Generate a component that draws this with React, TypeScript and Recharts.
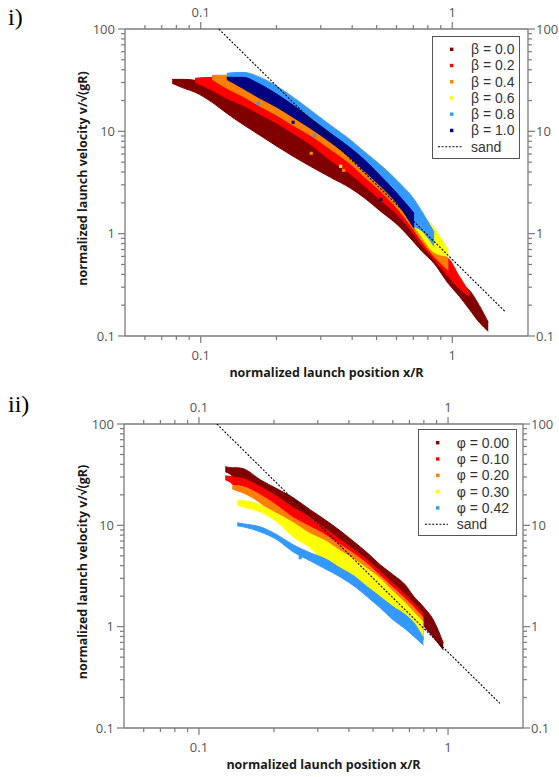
import React from 'react';
import { ComposedChart, Area, Scatter, XAxis, YAxis } from 'recharts';

// ---------- panel i : launch velocity for several beta ----------
const betaPositions = [0.077, 0.086, 0.095, 0.111, 0.127, 0.147, 0.172, 0.201, 0.233, 0.273, 0.328, 0.395, 0.445, 0.52, 0.608, 0.705, 0.752, 0.847, 0.964, 1.067, 1.17, 1.28, 1.39];

// each entry: [lowest velocity, highest velocity] of the point cloud at that position
const beta00 = [[29.5, 32.2], [26.3, 32.2], [24.1, 31.5], [19.2, 27.5], [15.0, 23.0], [11.7, 19.6], [9.14, 16.1], [7.13, 13.1], [5.7, 10.46], [4.55, 8.17], [3.55, 5.7], [2.77, 4.15], [2.26, 3.24], [1.65, 2.31], [1.21, 1.65], [0.822, 1.08], [0.686, 0.86], [0.512, 0.613], [0.326, 0.418], [0.244, 0.319], [0.182, 0.279], [0.136, 0.199], [0.111, 0.136]];
const beta02 = [null, null, [30.1, 33.0], [25.2, 33.7], [21.0, 31.5], [18.0, 24.1], [14.7, 19.2], [11.97, 15.7], [9.56, 12.5], [7.46, 10.0], [5.21, 7.29], [3.8, 5.21], [2.97, 3.97], [2.12, 2.83], [1.51, 1.89], [0.984, 1.18], [0.786, 0.941], [0.561, 0.656], [0.382, 0.573], [0.292, 0.382], [0.244, 0.267], null, null];
const beta04 = [null, null, null, [32.2, 35.3], [26.3, 35.3], [22.0, 28.8], [17.6, 23.0], [14.3, 18.8], [11.45, 15.0], [9.14, 11.7], [6.67, 8.54], [4.76, 5.96], [3.63, 4.55], [2.59, 3.17], [1.73, 2.12], [1.08, 1.23], [0.86, 1.03], [0.6, 0.786], [0.438, 0.573], null, null, null, null];
const beta06 = [null, null, null, null, null, null, null, null, null, null, null, null, null, null, null, [1.18, 1.89], [0.941, 1.58], [0.656, 1.13], [0.6, 0.686], null, null, null, null];
const beta08 = [null, null, null, null, [33.0, 36.9], [27.5, 37.7], [22.0, 33.7], [18.0, 27.5], [14.3, 21.5], [11.2, 16.1], [8.17, 11.45], [5.7, 8.17], [4.35, 6.38], [3.03, 4.65], [2.02, 3.24], [1.18, 2.16], [1.08, 1.69], [0.752, 1.03], null, null, null, null, null];
const beta10 = [null, null, null, null, [32.2, 33.7], [26.3, 33.7], [21.0, 28.8], [17.2, 23.0], [13.7, 18.0], [10.7, 13.4], [7.81, 9.56], [5.45, 6.82], [4.15, 5.33], [2.9, 3.63], [1.93, 2.42], [1.13, 1.58], null, null, null, null, null, null, null];

// isolated points lying off their cloud
const beta04Stray = [{ x: 0.275, y: 6.1 }, { x: 0.37, y: 4.15 }];
const beta06Stray = [{ x: 0.36, y: 4.55 }];
const beta08Stray = [{ x: 0.283, y: 9.14 }, { x: 0.169, y: 18.8 }];
const beta10Stray = [{ x: 0.52, y: 2.16 }, { x: 0.233, y: 12.25 }, { x: 0.143, y: 28.8 }];

const betaLabels = ['β = 0.0', 'β = 0.2', 'β = 0.4', 'β = 0.6', 'β = 0.8', 'β = 1.0'];

// ---------- panel ii : launch velocity for several phi ----------
const phiPositions = [0.1275, 0.136, 0.1425, 0.1506, 0.176, 0.206, 0.239, 0.28, 0.3215, 0.369, 0.424, 0.474, 0.535, 0.603, 0.674, 0.7255, 0.796, 0.873, 0.957];

const phi000 = [[33.8, 37.9], [30.8, 37.0], [26.9, 37.0], [26.3, 36.2], [21.9, 28.2], [17.5, 22.9], [13.6, 18.7], [10.8, 14.2], [8.43, 11.3], [6.57, 8.83], [5.11, 6.72], [4.16, 5.35], [3.17, 4.07], [2.41, 3.24], [1.88, 2.58], [1.57, 2.01], [1.04, 1.57], [0.791, 1.165], [0.589, 0.69]];
const phi010 = [[28.2, 30.8], [25.7, 30.1], [22.4, 29.5], [21.9, 28.8], [18.3, 24.0], [14.2, 19.1], [10.8, 14.9], [8.83, 11.9], [7.36, 9.23], [5.86, 7.19], [4.67, 5.6], [3.8, 4.56], [2.89, 3.47], [2.2, 2.64], [1.71, 2.06], [1.43, 1.71], [0.739, 1.34], null, null];
const phi020 = [null, [22.9, 24.6], [21.9, 24.6], [20.9, 24.0], [16.7, 20.0], [11.9, 15.6], [9.66, 11.9], [7.52, 9.66], [6.42, 8.05], [5.11, 6.42], [4.16, 5.11], [3.39, 4.16], [2.7, 3.17], [2.01, 2.41], [1.57, 1.88], [1.275, 1.57], [0.739, 1.22], null, null];
const phi030 = [null, null, [15.9, 17.5], [15.2, 17.5], [13.6, 15.9], [10.8, 13.0], [7.7, 10.6], [5.99, 8.24], [4.26, 7.03], [3.47, 5.6], [2.83, 4.56], [2.25, 3.72], [1.79, 2.96], [1.43, 2.2], [1.19, 1.71], [1.016, 1.4], [0.706, 1.11], null, null];
const phi042 = [null, null, [9.89, 10.6], [9.66, 10.35], [8.63, 9.66], [7.19, 8.05], [5.47, 6.42], [4.46, 5.35], [3.72, 4.67], [3.1, 3.8], [2.47, 3.1], [1.97, 2.47], [1.53, 1.97], [1.165, 1.57], [0.949, 1.31], [0.809, 1.11], [0.659, 0.773], null, null];

const phi042Stray = [{ x: 0.255, y: 4.8 }];

const phiLabels = ['φ = 0.00', 'φ = 0.10', 'φ = 0.20', 'φ = 0.30', 'φ = 0.42'];

// power law for sand, same in both panels
const sandLine = [{ x: 0.118, y: 100 }, { x: 1.615, y: 0.175 }];

const xTicks = [0.06, 0.07, 0.08, 0.09, 0.1, 0.2, 0.3, 0.4, 0.5, 0.6, 0.7, 0.8, 0.9, 1];
const yTicks = [0.1, 0.2, 0.3, 0.4, 0.5, 0.6, 0.7, 0.8, 0.9, 1, 2, 3, 4, 5, 6, 7, 8, 9, 10, 20, 30, 40, 50, 60, 70, 80, 90, 100];
const majorTicks = [0.1, 1, 10, 100];

const DARK_RED = '#800000';
const RED = '#ff0000';
const ORANGE = '#ff8000';
const YELLOW = '#ffff00';
const LIGHT_BLUE = '#3399ff';
const NAVY = '#000080';

const AXIS = '#7a7a7a';
const TICK_TEXT = '#555';
const FONT = '"Open Sans", "DejaVu Sans", sans-serif';
const LEGEND_FONT = '"Liberation Sans", Arial, sans-serif';

const betaSeries = [
  { key: 'b00', color: DARK_RED, band: beta00, stray: null },
  { key: 'b02', color: RED, band: beta02, stray: null },
  { key: 'b04', color: ORANGE, band: beta04, stray: beta04Stray },
  { key: 'b06', color: YELLOW, band: beta06, stray: beta06Stray },
  { key: 'b08', color: LIGHT_BLUE, band: beta08, stray: beta08Stray },
  { key: 'b10', color: NAVY, band: beta10, stray: beta10Stray },
];

const phiSeries = [
  { key: 'p000', color: DARK_RED, band: phi000, stray: null },
  { key: 'p010', color: RED, band: phi010, stray: null },
  { key: 'p020', color: ORANGE, band: phi020, stray: null },
  { key: 'p030', color: YELLOW, band: phi030, stray: null },
  { key: 'p042', color: LIGHT_BLUE, band: phi042, stray: phi042Stray },
];

const isMajor = (v: number) => majorTicks.includes(v);

const tickLabel = (x: number, y: number, v: number, anchor: string) => (
  <text x={x} y={y} dy="0.35em" textAnchor={anchor} fill={TICK_TEXT} fontSize={13} fontFamily={FONT}>
    {String(v)}
  </text>
);

const bottomTick = (p: any) => {
  const v = p.payload.value;
  const m = isMajor(v);
  return (
    <g>
      <line x1={p.x} y1={p.y} x2={p.x} y2={p.y + (m ? 7 : 4)} stroke={AXIS} strokeWidth={1.2} />
      {m && tickLabel(p.x, p.y + 19, v, 'middle')}
    </g>
  );
};

const topTick = (p: any) => {
  const v = p.payload.value;
  const m = isMajor(v);
  return (
    <g>
      <line x1={p.x} y1={p.y} x2={p.x} y2={p.y - (m ? 7 : 4)} stroke={AXIS} strokeWidth={1.2} />
      {m && tickLabel(p.x, p.y - 17, v, 'middle')}
    </g>
  );
};

const leftTick = (p: any) => {
  const v = p.payload.value;
  const m = isMajor(v);
  return (
    <g>
      <line x1={p.x} y1={p.y} x2={p.x - (m ? 7 : 4)} y2={p.y} stroke={AXIS} strokeWidth={1.2} />
      {m && tickLabel(p.x - 10, p.y, v, 'end')}
    </g>
  );
};

const rightTick = (p: any) => {
  const v = p.payload.value;
  const m = isMajor(v);
  return (
    <g>
      <line x1={p.x} y1={p.y} x2={p.x + (m ? 7 : 4)} y2={p.y} stroke={AXIS} strokeWidth={1.2} />
      {m && tickLabel(p.x + 8, p.y, v, 'start')}
    </g>
  );
};

const square = (p: any) => <rect x={p.cx - 1.6} y={p.cy - 1.6} width={3.2} height={3.2} fill={p.fill} />;
const noShape = () => <g />;

const xTitle = (p: any) => {
  const vb = p.viewBox;
  return (
    <text x={vb.x + vb.width / 2} y={vb.y + 37} dy="0.35em" textAnchor="middle" fontWeight="bold" fontSize={12.5} fontFamily={FONT} fill="#1a1a1a">
      normalized launch position x/R
    </text>
  );
};

const yTitle = (p: any) => {
  const vb = p.viewBox;
  const cy = vb.y + vb.height / 2 - 4;
  return (
    <text x={83} y={cy} dy="0.35em" textAnchor="middle" fontWeight="bold" fontSize={12.5} fontFamily={FONT} fill="#1a1a1a" transform={`rotate(-90 83 ${cy})`}>
      normalized launch velocity v/√(gR)
    </text>
  );
};

function Panel({ positions, series, width, height, leftW, rightW, topH, bottomH }: any) {
  const data = positions.map((x: number, i: number) => {
    const row: any = { x };
    series.forEach((s: any) => {
      row[s.key] = s.band[i] ?? null;
    });
    return row;
  });

  const axisLine = { stroke: AXIS, strokeWidth: 1.3 };

  return (
    <ComposedChart width={width} height={height} data={data} margin={{ top: 0, right: 0, bottom: 0, left: 0 }}>
      <XAxis xAxisId="bottom" dataKey="x" type="number" scale="log" domain={[0.05, 2]} allowDataOverflow
        ticks={xTicks} interval={0} tickSize={0} tickMargin={0} tickLine={false} axisLine={axisLine}
        tick={bottomTick} height={bottomH} label={xTitle} />
      <XAxis xAxisId="top" orientation="top" dataKey="x" type="number" scale="log" domain={[0.05, 2]} allowDataOverflow
        ticks={xTicks} interval={0} tickSize={0} tickMargin={0} tickLine={false} axisLine={axisLine}
        tick={topTick} height={topH} />
      <YAxis yAxisId="left" type="number" scale="log" domain={[0.1, 100]} allowDataOverflow
        ticks={yTicks} interval={0} tickSize={0} tickMargin={0} tickLine={false} axisLine={axisLine}
        tick={leftTick} width={leftW} label={yTitle} />
      <YAxis yAxisId="right" orientation="right" type="number" scale="log" domain={[0.1, 100]} allowDataOverflow
        ticks={yTicks} interval={0} tickSize={0} tickMargin={0} tickLine={false} axisLine={axisLine}
        tick={rightTick} width={rightW} />
      {series.map((s: any) => (
        <Area key={s.key} xAxisId="bottom" yAxisId="left" dataKey={s.key} type="monotone"
          fill={s.color} fillOpacity={1} stroke={s.color} strokeWidth={1}
          dot={false} activeDot={false} isAnimationActive={false} />
      ))}
      {series.filter((s: any) => s.stray).map((s: any) => (
        <Scatter key={s.key + 'dots'} xAxisId="bottom" yAxisId="left" data={s.stray} dataKey="y"
          fill={s.color} shape={square} isAnimationActive={false} />
      ))}
      <Scatter xAxisId="bottom" yAxisId="left" data={sandLine} dataKey="y" shape={noShape}
        line={{ stroke: '#000', strokeWidth: 1.1, strokeDasharray: '2 1.6' }} isAnimationActive={false} />
    </ComposedChart>
  );
}

function LegendBox({ left, top, width, height, labels, colors, firstY, step, markerX, textX, lineX1, lineX2 }: any) {
  const sandY = firstY + labels.length * step;
  return (
    <svg style={{ position: 'absolute', left, top }} width={width} height={height}>
      <rect x={0.5} y={0.5} width={width - 1} height={height - 1} fill="#fff" stroke="#555" strokeWidth={1} />
      {labels.map((l: string, i: number) => (
        <g key={l}>
          <rect x={markerX - 1.7} y={firstY + i * step - 1.7} width={3.4} height={3.4} fill={colors[i]} />
          <text x={textX} y={firstY + i * step} dy="0.35em" fontSize={14} fontFamily={LEGEND_FONT} fill="#333">{l}</text>
        </g>
      ))}
      <line x1={lineX1} y1={sandY} x2={lineX2} y2={sandY} stroke="#000" strokeWidth={1.1} strokeDasharray="2 1.6" />
      <text x={textX} y={sandY} dy="0.35em" fontSize={14} fontFamily={LEGEND_FONT} fill="#333">sand</text>
    </svg>
  );
}

const panelLabel = { position: 'absolute' as const, left: 8, fontFamily: '"Liberation Serif", serif', fontSize: 24, lineHeight: '24px', color: '#000' };

export default function App() {
  return (
    <div style={{ position: 'absolute', left: 0, top: 0, width: 559, height: 777, background: '#fff', overflow: 'hidden' }}>
      <div style={{ position: 'absolute', left: 0, top: 0 }}>
        <Panel positions={betaPositions} series={betaSeries} width={559} height={390}
          leftW={125} rightW={31} topH={29} bottomH={54} />
      </div>
      <div style={{ position: 'absolute', left: 0, top: 388 }}>
        <Panel positions={phiPositions} series={phiSeries} width={559} height={389}
          leftW={124} rightW={36} topH={36} bottomH={49} />
      </div>
      <div style={{ ...panelLabel, top: 5 }}>i)</div>
      <div style={{ ...panelLabel, top: 392 }}>ii)</div>
      <LegendBox left={432} top={36} width={88} height={123} labels={betaLabels}
        colors={betaSeries.map((s) => s.color)} firstY={13.3} step={16.23} markerX={19.7} textX={39} lineX1={6} lineX2={30} />
      <LegendBox left={418} top={429} width={99} height={107} labels={phiLabels}
        colors={phiSeries.map((s) => s.color)} firstY={13.7} step={16.3} markerX={19.7} textX={38.7} lineX1={7} lineX2={30} />
    </div>
  );
}
